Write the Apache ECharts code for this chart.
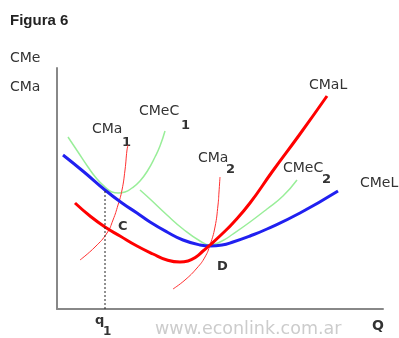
<!DOCTYPE html>
<html>
<head>
<meta charset="utf-8">
<script src="https://cdn.jsdelivr.net/npm/echarts@6/dist/echarts.min.js"></script>
<style>html,body{margin:0;padding:0;background:#fff}#c{width:399px;height:338px}</style>
</head>
<body>
<div id="c"></div>
<script>
// Values (Q on x, cost on y, arbitrary units)
var cmelX = [6,27,48,65,80,93,110,126,143,153,165,176,193,210,243,281];
var cmelY = [154,137,119,106,96,87,77,69,64,63,64,67,73,80,96,118];

var cmalX = [18,33,48,63,80,96,110,123,131,139,146,153,165,176,193,215,243,270];
var cmalY = [106,93,82,73,63,55,49,47,48,52,58,64,75,86,106,137,175,213];

var cmec1X = [11,21,31,40,48,55,61,68,75,83,91,98,103,108];
var cmec1Y = [172,157,142,130,122,117,116,117,121,128,139,152,163,178];

var cmec2X = [83,93,110,126,143,153,165,176,193,210,226,240];
var cmec2Y = [119,110,94,80,68,64,68,75,87,100,113,129];

var cma1X = [23,38,50,56,61,65,68,70,71];
var cma1Y = [49,62,76,89,104,119,139,159,164];

var cma2X = [116,128,140,148,153,158,161,162,163];
var cma2Y = [20,29,41,52,64,82,104,117,132];

var q1 = 48;          // position of q1 on the Q axis
var q1Top = 119;      // height of the dotted guide at q1
var xMax = 326, yMax = 241;

function pts(xs, ys){ return xs.map(function(x,i){ return [x, ys[i]]; }); }

var chart = echarts.init(document.getElementById('c'), null, {renderer:'canvas'});
var font = 'DejaVu Sans';
function txt(t, x, y, opt){
  opt = opt || {};
  return {type:'text', left:x, top:y, silent:true, style:{
    text:t, fill: opt.fill || '#333', font: (opt.bold?'bold ':'') + (opt.size||14) + 'px ' + (opt.family||font)
  }};
}
function line(data, color, width){
  return {type:'line', data:data, smooth:0.5, showSymbol:false, symbol:'none', silent:true,
    lineStyle:{color:color, width:width}, z: width>2?3:2};
}
chart.setOption({
  animation:false,
  grid:{left:57, top:68, width:326, height:241},
  xAxis:{type:'value', min:0, max:xMax, axisLabel:{show:false}, axisTick:{show:false}, splitLine:{show:false},
    axisLine:{lineStyle:{color:'#888', width:2}}},
  yAxis:{type:'value', min:0, max:yMax, axisLabel:{show:false}, axisTick:{show:false}, splitLine:{show:false},
    axisLine:{lineStyle:{color:'#888', width:2}}},
  series:[
    line(pts(cmec1X,cmec1Y), '#99ee99', 1.5),
    line(pts(cmec2X,cmec2Y), '#99ee99', 1.5),
    line(pts(cma1X,cma1Y), '#ff3030', 1),
    line(pts(cma2X,cma2Y), '#ff3030', 1),
    line(pts(cmelX,cmelY), '#2020f0', 3),
    line(pts(cmalX,cmalY), '#ff0000', 3),
    {type:'line', data:[[q1,0],[q1,q1Top]], showSymbol:false, symbol:'none', silent:true,
      lineStyle:{color:'#222', width:1, type:[2,2]}}
  ],
  graphic:[
    txt('Figura 6', 10, 13, {bold:true, size:15, family:'Liberation Sans', fill:'#222'}),
    txt('CMe', 10, 51),
    txt('CMa', 10, 80),
    txt('CMeC', 139, 104), txt('1', 181, 119, {bold:true, size:13}),
    txt('CMa', 92, 122), txt('1', 122, 136, {bold:true, size:13}),
    txt('CMaL', 309, 78),
    txt('CMa', 198, 151), txt('2', 226, 163, {bold:true, size:13}),
    txt('CMeC', 283, 161), txt('2', 322, 173, {bold:true, size:13}),
    txt('CMeL', 360, 176),
    txt('C', 118, 220, {bold:true, size:13}),
    txt('D', 217, 260, {bold:true, size:13}),
    txt('q', 95, 314, {bold:true, size:13}), txt('1', 103, 326, {bold:true, size:12}),
    txt('Q', 372, 319, {bold:true, size:14}),
    txt('www.econlink.com.ar', 155, 320, {size:17.5, fill:'#cccccc'})
  ]
});
</script>
</body>
</html>
